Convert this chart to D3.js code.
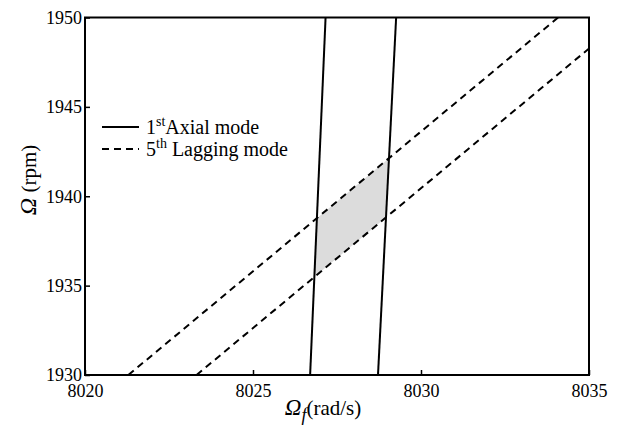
<!DOCTYPE html>
<html><head><meta charset="utf-8">
<script src="https://cdn.jsdelivr.net/npm/d3@7"></script>
<style>
body{margin:0;background:#fff}
svg text{font-family:"Liberation Serif","Times New Roman",Times,"DejaVu Serif",serif;}
</style>
</head><body>
<svg id="c" width="619" height="442"></svg>
<script>
// ---- data ----
const xTicks = [8020, 8025, 8030, 8035];
const yTicks = [1930, 1935, 1940, 1945, 1950];
const xDomain = [8020, 8035];
const yDomain = [1930, 1950];
// 1st axial mode: two boundary lines [Omega_f, Omega]
const axialLeft  = [[8026.70, 1930], [8027.16, 1950]];
const axialRight = [[8028.72, 1930], [8029.26, 1950]];
// 5th lagging mode: two boundary lines
const laggingUpper = [[8021.29, 1930], [8034.08, 1950]];
const laggingLower = [[8023.32, 1930], [8036.11, 1950]];
const legendLabels = [["1", "st", "Axial mode"], ["5", "th", " Lagging mode"]];

// ---- layout ----
const svg = d3.select("#c");
const L = 85, R = 589, T = 17.5, B = 375;
const x = d3.scaleLinear().domain(xDomain).range([L, R]);
const y = d3.scaleLinear().domain(yDomain).range([B, T]);

svg.append("defs").append("clipPath").attr("id", "clip")
  .append("rect").attr("x", L).attr("y", T).attr("width", R - L).attr("height", B - T);

function intersect(a, b) {
  const [x1, y1] = a[0], [x2, y2] = a[1], [x3, y3] = b[0], [x4, y4] = b[1];
  const d = (x1 - x2) * (y3 - y4) - (y1 - y2) * (x3 - x4);
  const t = ((x1 - x3) * (y3 - y4) - (y1 - y3) * (x3 - x4)) / d;
  return [x1 + t * (x2 - x1), y1 + t * (y2 - y1)];
}
const region = [
  intersect(axialLeft, laggingLower),
  intersect(axialLeft, laggingUpper),
  intersect(axialRight, laggingUpper),
  intersect(axialRight, laggingLower)
];
const line = d3.line().x(d => x(d[0])).y(d => y(d[1]));

const g = svg.append("g").attr("clip-path", "url(#clip)");
g.append("path").attr("d", line(region) + "Z").attr("fill", "#dcdcdc").attr("stroke", "none");
[laggingUpper, laggingLower].forEach(l =>
  g.append("path").attr("d", line(l)).attr("fill", "none").attr("stroke", "#000")
    .attr("stroke-width", 2).attr("stroke-dasharray", "7,5"));
[axialLeft, axialRight].forEach(l =>
  g.append("path").attr("d", line(l)).attr("fill", "none").attr("stroke", "#000")
    .attr("stroke-width", 2));

// axes
const xAxis = svg.append("g").attr("transform", `translate(0,${B})`)
  .call(d3.axisBottom(x).tickValues(xTicks).tickFormat(d3.format("d")).tickSizeInner(-5).tickSizeOuter(0).tickPadding(4));
const yAxis = svg.append("g").attr("transform", `translate(${L},0)`)
  .call(d3.axisLeft(y).tickValues(yTicks).tickFormat(d3.format("d")).tickSizeInner(-5).tickSizeOuter(0).tickPadding(3));
[xAxis, yAxis].forEach(a => {
  a.attr("font-family", null);
  a.select(".domain").remove();
  a.selectAll("line").attr("stroke", "#000").attr("stroke-width", 1.5);
  a.selectAll("text").attr("font-size", 18).attr("fill", "#000");
});
xAxis.selectAll("text").attr("dy", "1.0em");
yAxis.selectAll("text").attr("dy", "0.32em");

// frame
svg.append("rect").attr("x", L).attr("y", T).attr("width", R - L).attr("height", B - T)
  .attr("fill", "none").attr("stroke", "#000").attr("stroke-width", 2);

// legend
const lg = svg.append("g");
[0, 1].forEach(i => {
  const yy = 127 + i * 22;
  lg.append("line").attr("x1", 102).attr("x2", 139).attr("y1", yy).attr("y2", yy)
    .attr("stroke", "#000").attr("stroke-width", 2)
    .attr("stroke-dasharray", i === 1 ? "7,5" : null);
  const t = lg.append("text").attr("x", 146).attr("y", yy + 7)
    .attr("font-size", 20).attr("fill", "#000");
  t.append("tspan").text(legendLabels[i][0]);
  t.append("tspan").attr("dy", -8).attr("font-size", 14).text(legendLabels[i][1]);
  t.append("tspan").attr("dy", 8).text(legendLabels[i][2]);
});

// x label
const xl = svg.append("text").attr("x", 323).attr("y", 415).attr("text-anchor", "middle")
  .attr("font-size", 21).attr("fill", "#000");
xl.append("tspan").attr("font-style", "italic").attr("font-size", 23).text("Ω");
xl.append("tspan").attr("font-style", "italic").attr("font-size", 18).attr("dy", 6).text("f");
xl.append("tspan").attr("dy", -6).text("(rad/s)");

// y label
const yl = svg.append("text").attr("transform", "translate(36,180) rotate(-90)")
  .attr("text-anchor", "middle").attr("font-size", 21).attr("fill", "#000");
yl.append("tspan").attr("font-style", "italic").attr("font-size", 24).text("Ω");
yl.append("tspan").text(" (rpm)");
</script>
</body></html>
